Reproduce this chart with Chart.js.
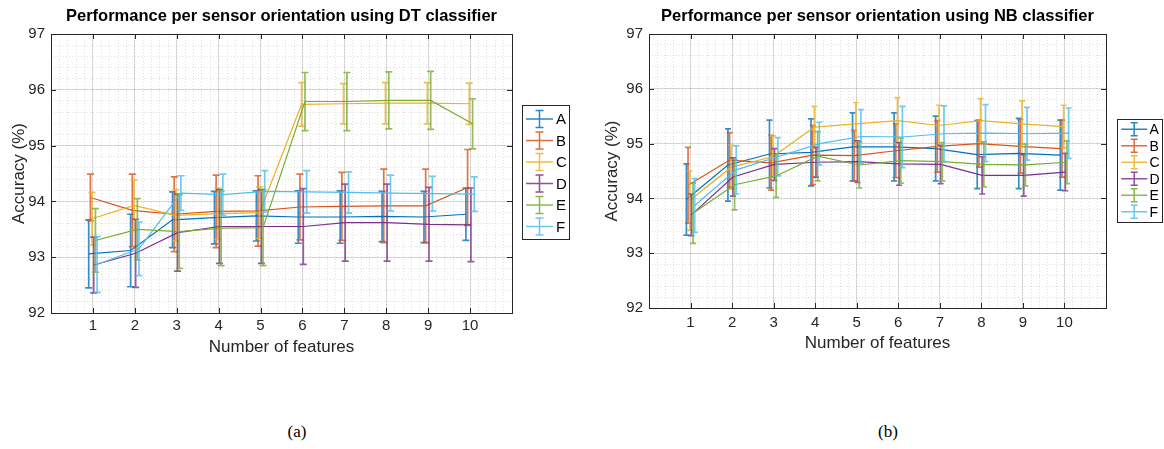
<!DOCTYPE html>
<html><head><meta charset="utf-8">
<script src="https://cdn.jsdelivr.net/npm/chart.js@4.4.1/dist/chart.umd.min.js"></script>
<style>
html,body{margin:0;padding:0;background:#fff;}
#wrap{position:relative;width:1164px;height:449px;overflow:hidden;background:#fff;}
canvas{position:absolute;top:0;}
#c1{left:0;}
#c2{left:582px;}
.cap{position:absolute;font-family:"Liberation Serif","DejaVu Serif",serif;font-size:17px;color:#000;top:422px;transform:translateX(-50%);}
</style></head><body>
<div id="wrap">
<canvas id="c1" width="582" height="370"></canvas>
<canvas id="c2" width="582" height="370"></canvas>
<div class="cap" style="left:297px">(a)</div>
<div class="cap" style="left:888px">(b)</div>
</div>
<script>
// ---- data ----
const features = [1, 2, 3, 4, 5, 6, 7, 8, 9, 10];
const xTickLabels = ['1', '2', '3', '4', '5', '6', '7', '8', '9', '10'];
const yTickValues = [92, 93, 94, 95, 96, 97];
const seriesNames = ['A', 'B', 'C', 'D', 'E', 'F'];
const dodge = [-0.1, -0.06, -0.02, 0.02, 0.06, 0.1];

// DT classifier
const dtMeanA = [93.06, 93.12, 93.67, 93.71, 93.74, 93.72, 93.72, 93.73, 93.72, 93.77];
const dtErrA  = [0.61, 0.65, 0.50, 0.47, 0.45, 0.47, 0.47, 0.45, 0.46, 0.47];
const dtMeanB = [94.07, 93.84, 93.77, 93.82, 93.83, 93.90, 93.91, 93.92, 93.92, 94.25];
const dtErrB  = [0.42, 0.65, 0.67, 0.65, 0.63, 0.59, 0.61, 0.66, 0.66, 0.68];
const dtMeanC = [93.69, 93.93, 93.75, 93.78, 93.80, 95.74, 95.75, 95.76, 95.76, 95.75];
const dtErrC  = [0.47, 0.45, 0.46, 0.46, 0.46, 0.39, 0.36, 0.37, 0.37, 0.37];
const dtMeanD = [92.86, 93.07, 93.44, 93.55, 93.55, 93.55, 93.62, 93.62, 93.59, 93.58];
const dtErrD  = [0.50, 0.61, 0.69, 0.66, 0.66, 0.68, 0.69, 0.69, 0.66, 0.66];
const dtMeanE = [93.30, 93.50, 93.46, 93.52, 93.53, 95.79, 95.79, 95.81, 95.81, 95.39];
const dtErrE  = [0.57, 0.55, 0.66, 0.67, 0.68, 0.52, 0.52, 0.51, 0.52, 0.45];
const dtMeanF = [92.87, 93.15, 94.15, 94.12, 94.18, 94.17, 94.16, 94.15, 94.14, 94.13];
const dtErrF  = [0.50, 0.48, 0.31, 0.37, 0.37, 0.38, 0.37, 0.32, 0.31, 0.31];

// NB classifier
const nbMeanA = [93.98, 94.61, 94.81, 94.84, 94.94, 94.94, 94.91, 94.80, 94.82, 94.79];
const nbErrA  = [0.65, 0.66, 0.62, 0.61, 0.62, 0.62, 0.59, 0.62, 0.64, 0.64];
const nbMeanB = [94.24, 94.70, 94.65, 94.79, 94.78, 94.87, 94.95, 95.00, 94.95, 94.91];
const nbErrB  = [0.69, 0.50, 0.50, 0.54, 0.46, 0.49, 0.47, 0.43, 0.49, 0.52];
const nbMeanC = [93.96, 94.57, 94.76, 95.30, 95.36, 95.42, 95.33, 95.42, 95.36, 95.31];
const nbErrC  = [0.54, 0.40, 0.38, 0.38, 0.39, 0.42, 0.37, 0.40, 0.42, 0.39];
const nbMeanD = [93.70, 94.39, 94.62, 94.66, 94.67, 94.63, 94.62, 94.42, 94.42, 94.48];
const nbErrD  = [0.38, 0.35, 0.29, 0.27, 0.38, 0.39, 0.35, 0.34, 0.38, 0.34];
const nbMeanE = [93.73, 94.25, 94.41, 94.77, 94.61, 94.69, 94.67, 94.62, 94.61, 94.66];
const nbErrE  = [0.55, 0.46, 0.39, 0.45, 0.42, 0.41, 0.35, 0.41, 0.38, 0.39];
const nbMeanF = [93.87, 94.52, 94.76, 95.00, 95.13, 95.12, 95.18, 95.19, 95.18, 95.19];
const nbErrF  = [0.49, 0.44, 0.35, 0.39, 0.49, 0.56, 0.51, 0.52, 0.48, 0.46];

const seriesColors = ['#0072BD', '#D95319', '#EDB120', '#7E2F8E', '#77AC30', '#4DBEEE'];

// ---- rendering ----
const FONT = '"Liberation Sans", Arial, Helvetica, sans-serif';
const AXIS_COLOR = '#262626';

const errorBarPlugin = {
  id: 'errorBars',
  afterDatasetDraw(chart, args, opts) {
    const ds = chart.data.datasets[args.index];
    const meta = args.meta;
    const ys = chart.scales.y;
    const ctx = chart.ctx;
    ctx.save();
    ctx.strokeStyle = ds.borderColor;
    ctx.globalAlpha = 0.8;
    ctx.lineWidth = 1.7;
    meta.data.forEach((el, i) => {
      const m = ds.data[i].y, e = ds.errors[i];
      const x = el.x;
      const yt = ys.getPixelForValue(m + e);
      const yb = ys.getPixelForValue(m - e);
      ctx.beginPath();
      ctx.moveTo(x, yt); ctx.lineTo(x, yb);
      ctx.moveTo(x - opts.cap, yt); ctx.lineTo(x + opts.cap, yt);
      ctx.moveTo(x - opts.cap, yb); ctx.lineTo(x + opts.cap, yb);
      ctx.stroke();
    });
    ctx.restore();
  }
};

const boxPlugin = {
  id: 'axesBox',
  afterDatasetsDraw(chart) {
    const {ctx, chartArea: a, scales} = chart;
    ctx.save();
    ctx.strokeStyle = AXIS_COLOR;
    ctx.lineWidth = 1;
    ctx.strokeRect(Math.round(a.left) + 0.5, Math.round(a.top) + 0.5,
                   Math.round(a.right - a.left), Math.round(a.bottom - a.top));
    ctx.beginPath();
    const L = 5;
    features.forEach(f => {
      const x = Math.round(scales.x.getPixelForValue(f)) + 0.5;
      ctx.moveTo(x, a.bottom); ctx.lineTo(x, a.bottom - L);
      ctx.moveTo(x, a.top); ctx.lineTo(x, a.top + L);
    });
    yTickValues.forEach(v => {
      const y = Math.round(scales.y.getPixelForValue(v)) + 0.5;
      ctx.moveTo(a.left, y); ctx.lineTo(a.left + L, y);
      ctx.moveTo(a.right, y); ctx.lineTo(a.right - L, y);
    });
    ctx.stroke();
    ctx.restore();
  }
};

const legendPlugin = {
  id: 'errLegend',
  afterDraw(chart, args, o) {
    const {ctx, chartArea: a} = chart;
    const bx = Math.round(a.right + o.gap) + 0.5;
    const by = o.top + 0.5;
    ctx.save();
    ctx.fillStyle = '#fff';
    ctx.fillRect(bx, by, o.width, o.height);
    ctx.strokeStyle = AXIS_COLOR;
    ctx.lineWidth = 1;
    ctx.strokeRect(bx, by, o.width, o.height);
    chart.data.datasets.forEach((ds, i) => {
      const cy = o.top + o.rowStart + i * o.rowStep;
      const cx = bx + (o.lineStart + o.lineEnd) / 2;
      ctx.strokeStyle = ds.borderColor;
      ctx.globalAlpha = 0.85;
      ctx.lineWidth = 1.5;
      ctx.beginPath();
      ctx.moveTo(bx + o.lineStart, cy); ctx.lineTo(bx + o.lineEnd, cy);
      ctx.moveTo(cx, cy - o.barHalf); ctx.lineTo(cx, cy + o.barHalf);
      ctx.moveTo(cx - o.cap, cy - o.barHalf); ctx.lineTo(cx + o.cap, cy - o.barHalf);
      ctx.moveTo(cx - o.cap, cy + o.barHalf); ctx.lineTo(cx + o.cap, cy + o.barHalf);
      ctx.stroke();
      ctx.globalAlpha = 1;
      ctx.fillStyle = '#000';
      ctx.font = o.fontSize + 'px ' + FONT;
      ctx.textBaseline = 'middle';
      ctx.textAlign = 'left';
      ctx.fillText(ds.label, bx + o.textX, cy + 1);
    });
    ctx.restore();
  }
};

function buildChart(canvasId, titleText, means, errs, g) {
  const datasets = seriesNames.map((name, s) => ({
    label: name,
    data: features.map((f, i) => ({x: f + dodge[s], y: means[s][i]})),
    errors: errs[s],
    borderColor: seriesColors[s],
    backgroundColor: seriesColors[s],
    borderWidth: 1.2,
    pointRadius: 0,
    fill: false,
    tension: 0,
    order: seriesNames.length - s
  }));
  const minorGrid = {color: 'rgba(38,38,38,0.15)', lineWidth: 1, drawTicks: false};
  return new Chart(document.getElementById(canvasId), {
    type: 'line',
    data: {datasets},
    options: {
      responsive: false,
      animation: false,
      events: [],
      layout: {padding: {left: 0, right: g.padRight, top: 0, bottom: 0}},
      plugins: {
        legend: {display: false},
        tooltip: {enabled: false},
        title: {
          display: true, text: titleText, fullSize: false, color: '#000',
          font: {family: FONT, size: 16.5, weight: 'bold', lineHeight: 1.2},
          padding: {top: 6.8, bottom: 7.4}
        },
        errorBars: {cap: g.cap},
        errLegend: g.legend
      },
      scales: {
        x: {
          type: 'linear', position: 'bottom', min: 0, max: 11,
          afterFit: s => { s.height = g.xAxisHeight; },
          ticks: {
            stepSize: 1, autoSkip: false, maxRotation: 0, padding: g.xTickPad,
            color: AXIS_COLOR, font: {family: FONT, size: 15},
            callback: v => (v >= 1 && v <= 10) ? xTickLabels[v - 1] : ''
          },
          grid: {color: 'rgba(38,38,38,0.15)', lineWidth: 1, drawTicks: false},
          border: {display: false},
          title: {
            display: true, text: 'Number of features', color: AXIS_COLOR,
            font: {family: FONT, size: 17}, padding: {top: 0, bottom: g.xTitlePad}
          }
        },
        xMinor: {
          type: 'linear', position: 'bottom', min: 0, max: 11,
          afterFit: s => { s.height = 0; },
          ticks: {display: false, stepSize: 0.2, maxTicksLimit: 1000},
          grid: minorGrid,
          border: {display: false, dash: [1, 2]}
        },
        y: {
          type: 'linear', position: 'left', min: 92, max: 97,
          afterFit: s => { s.width = g.yAxisWidth; },
          ticks: {
            stepSize: 1, padding: 6, color: AXIS_COLOR, font: {family: FONT, size: 15},
            callback: v => yTickValues.includes(v) ? String(v) : ''
          },
          grid: {color: 'rgba(38,38,38,0.15)', lineWidth: 1, drawTicks: false},
          border: {display: false},
          title: {
            display: true, text: 'Accuracy (%)', color: AXIS_COLOR,
            font: {family: FONT, size: 17}, padding: {top: g.yTitlePad, bottom: 0}
          }
        },
        yMinor: {
          type: 'linear', position: 'left', min: 92, max: 97,
          afterFit: s => { s.width = 0; },
          ticks: {display: false, stepSize: 0.2, maxTicksLimit: 1000},
          grid: minorGrid,
          border: {display: false, dash: [1, 2]}
        }
      }
    },
    plugins: [errorBarPlugin, boxPlugin, legendPlugin]
  });
}

buildChart('c1', 'Performance per sensor orientation using DT classifier',
  [dtMeanA, dtMeanB, dtMeanC, dtMeanD, dtMeanE, dtMeanF],
  [dtErrA, dtErrB, dtErrC, dtErrD, dtErrE, dtErrF],
  {padRight: 70, yAxisWidth: 51, xAxisHeight: 57, xTickPad: 4, xTitlePad: 12.8, yTitlePad: 8.8, cap: 3.5,
   legend: {gap: 10, top: 105, width: 47, height: 134, rowStart: 14, rowStep: 21.5,
            lineStart: 3.5, lineEnd: 30.5, barHalf: 8.5, cap: 4, textX: 33.5, fontSize: 15}});

buildChart('c2', 'Performance per sensor orientation using NB classifier',
  [nbMeanA, nbMeanB, nbMeanC, nbMeanD, nbMeanE, nbMeanF],
  [nbErrA, nbErrB, nbErrC, nbErrD, nbErrE, nbErrF],
  {padRight: 58, yAxisWidth: 67, xAxisHeight: 62, xTickPad: 6, xTitlePad: 16.8, yTitlePad: 19.8, cap: 3,
   legend: {gap: 11, top: 119, width: 45, height: 103, rowStart: 10.3, rowStep: 16.5,
            lineStart: 3.7, lineEnd: 29.7, barHalf: 6.5, cap: 3.5, textX: 32, fontSize: 14}});
</script>
</body></html>
